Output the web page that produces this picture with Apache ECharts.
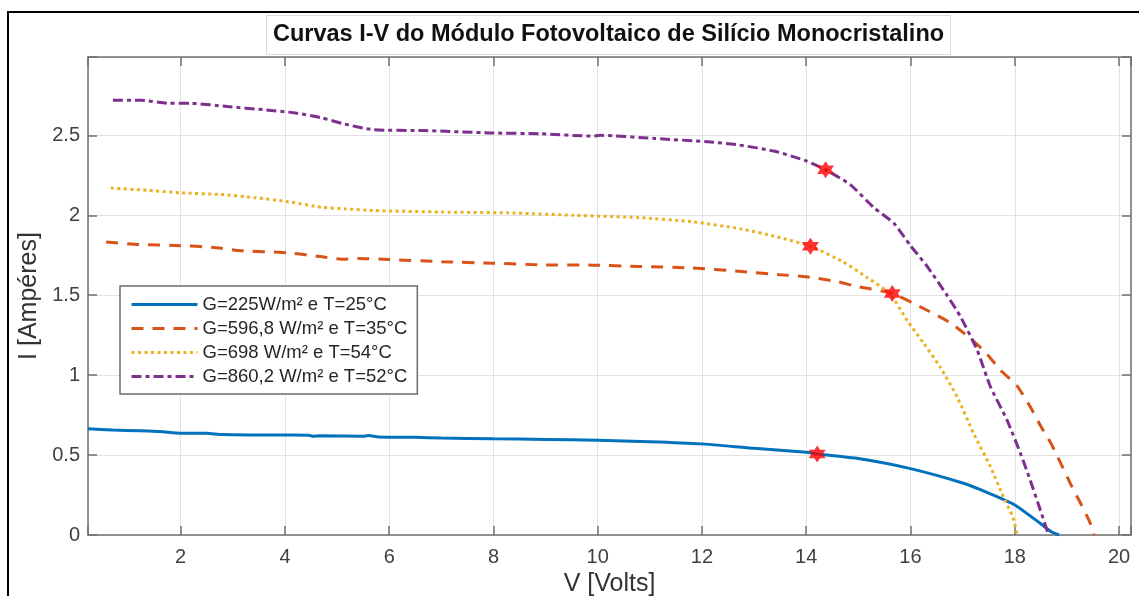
<!DOCTYPE html>
<html>
<head>
<meta charset="utf-8">
<script src="https://cdn.jsdelivr.net/npm/echarts@6/dist/echarts.min.js"></script>
<style>
  html, body { margin: 0; padding: 0; background: #fff; }
  #chart-container { width: 1139px; height: 596px; }
</style>
</head>
<body>
<div id="chart-container"></div>
<script>
let dom = document.getElementById("chart-container");
let myChart = echarts.init(dom, null, { renderer: "canvas" });

// curve names
const names = [
  "G=225W/m² e T=25°C",
  "G=596,8 W/m² e T=35°C",
  "G=698 W/m² e T=54°C",
  "G=860,2 W/m² e T=52°C",
];

// G=225
const v225 = [0.22, 0.7, 1.2, 1.6, 2.0, 2.5, 2.8, 3.5, 4.0, 4.45, 4.55, 4.65, 5.5, 5.6, 5.8, 6.5, 7.0, 8.0, 9.0, 10.0, 11.0, 12.0, 13.0, 14.0, 14.2, 15.0, 16.0, 17.0, 17.5, 18.0, 18.5, 18.7, 18.85];
const i225 = [0.665, 0.657, 0.652, 0.647, 0.637, 0.636, 0.628, 0.626, 0.625, 0.624, 0.617, 0.621, 0.617, 0.622, 0.613, 0.611, 0.607, 0.602, 0.598, 0.592, 0.584, 0.57, 0.542, 0.518, 0.507, 0.478, 0.415, 0.325, 0.262, 0.188, 0.07, 0.02, 0.0];

// G=596,8
const v596 = [0.57, 1.2, 2.0, 2.6, 3.1, 4.06, 4.6, 5.1, 5.4, 6.0, 7.0, 8.0, 8.9, 9.9, 10.8, 11.8, 12.7, 13.5, 14.0, 14.6, 14.9, 15.65, 16.25, 16.8, 17.4, 17.73, 18.05, 18.3, 18.5, 18.7, 18.88, 19.07, 19.26, 19.45, 19.52];
const i596 = [1.833, 1.817, 1.81, 1.8, 1.78, 1.765, 1.745, 1.725, 1.73, 1.723, 1.71, 1.7, 1.69, 1.688, 1.68, 1.67, 1.65, 1.628, 1.615, 1.585, 1.56, 1.51, 1.417, 1.32, 1.156, 1.03, 0.93, 0.8, 0.68, 0.57, 0.45, 0.32, 0.2, 0.073, 0.0];

// G=698
const v698 = [0.66, 1.37, 2.0, 2.77, 3.42, 4.06, 4.7, 5.15, 5.7, 7.0, 8.26, 9.53, 10.8, 11.8, 12.74, 13.44, 14.08, 14.7, 15.17, 15.6, 15.94, 16.25, 16.57, 16.9, 17.21, 17.53, 17.78, 17.96, 18.05];
const i698 = [2.17, 2.156, 2.14, 2.13, 2.11, 2.085, 2.05, 2.04, 2.03, 2.02, 2.015, 2.0, 1.985, 1.96, 1.915, 1.865, 1.806, 1.71, 1.61, 1.51, 1.34, 1.2, 1.05, 0.86, 0.635, 0.43, 0.24, 0.115, 0.0];

// G=860,2
const v860 = [0.7, 1.24, 1.76, 2.2, 2.9, 3.6, 4.2, 4.7, 5.15, 5.7, 6.65, 7.94, 8.9, 9.9, 10.05, 11.1, 12.1, 12.7, 13.4, 14.0, 14.37, 14.85, 15.29, 15.68, 16.0, 16.32, 16.7, 16.96, 17.28, 17.53, 17.85, 18.11, 18.3, 18.49, 18.65];
const i860 = [2.72, 2.72, 2.7, 2.7, 2.68, 2.66, 2.64, 2.61, 2.57, 2.535, 2.53, 2.515, 2.51, 2.495, 2.5, 2.48, 2.46, 2.44, 2.4, 2.34, 2.285, 2.19, 2.05, 1.95, 1.81, 1.68, 1.5, 1.365, 1.156, 0.93, 0.72, 0.51, 0.34, 0.156, 0.0];

// marked points (red stars)
const starV = [14.21, 14.08, 15.65, 14.37];
const starI = [0.507, 1.806, 1.51, 2.285];

const xTicks = [2, 4, 6, 8, 10, 12, 14, 16, 18, 20];
const yTicks = [0, 0.5, 1, 1.5, 2, 2.5];

const colors = ["#0072BD", "#D95319", "#EDB120", "#7E2F8E"];
const dashes = ["solid", [12, 9], [3, 3.5], [10, 4, 4, 4]];

const zip = (a, b) => a.map((v, k) => [v, b[k]]);
const curves = [zip(v225, i225), zip(v596, i596), zip(v698, i698), zip(v860, i860)];

const hexagram =
  "path://M0,-10 L2.89,-5 L8.66,-5 L5.77,0 L8.66,5 L2.89,5 L0,10 L-2.89,5 L-8.66,5 L-5.77,0 L-8.66,-5 L-2.89,-5 Z";

const FONT = "Liberation Sans";
const boxColor = "#707070";
const X_MIN = 0.222, X_MAX = 20.23;

// only print the round tick values, not the axis extent ends
function onTick(list) {
  return (v) => (list.some((t) => Math.abs(t - v) < 1e-6) ? String(v) : "");
}

let option = {
  animation: false,
  backgroundColor: "#fff",
  graphic: [
    {
      type: "rect",
      shape: { x: 8, y: 12, width: 1145, height: 600 },
      style: { fill: "none", stroke: "#000", lineWidth: 2 },
      z: 100,
    },
  ],
  title: {
    text: "Curvas I-V do Módulo Fotovoltaico de Silício Monocristalino",
    left: 266,
    top: 15,
    padding: [8, 7],
    backgroundColor: "#fff",
    borderColor: "#dcdcdc",
    borderWidth: 1,
    textStyle: { fontFamily: FONT, fontSize: 23.5, fontWeight: "bold", color: "#111" },
  },
  legend: {
    orient: "vertical",
    left: 120,
    top: 286,
    padding: [9, 10, 8, 10],
    itemWidth: 66,
    itemHeight: 14,
    itemGap: 5,
    backgroundColor: "#fff",
    borderColor: "#6a6a6a",
    borderWidth: 1.5,
    itemStyle: { opacity: 0 },
    lineStyle: { width: 3 },
    data: names,
    textStyle: { fontFamily: FONT, fontSize: 18.5, color: "#262626" },
  },
  grid: { left: 88, right: 8, top: 57, bottom: 61, containLabel: false, outerBoundsMode: "none" },
  xAxis: [
    {
      type: "value",
      min: X_MIN,
      max: X_MAX,
      splitNumber: 11,
      name: "V [Volts]",
      nameLocation: "middle",
      nameGap: 33,
      nameTextStyle: { fontFamily: FONT, fontSize: 25, color: "#333" },
      axisLine: { onZero: false, lineStyle: { color: boxColor, width: 1.5 } },
      axisTick: { inside: true, length: 9, lineStyle: { color: boxColor, width: 1.5 } },
      axisLabel: { margin: 12, fontFamily: FONT, fontSize: 20, color: "#404040", formatter: onTick(xTicks) },
      splitLine: { show: true, lineStyle: { color: "#e2e2e2", width: 1 } },
    },
    {
      type: "value",
      position: "top",
      min: X_MIN,
      max: X_MAX,
      splitNumber: 11,
      axisLine: { onZero: false, lineStyle: { color: boxColor, width: 1.5 } },
      axisTick: { inside: true, length: 9, lineStyle: { color: boxColor, width: 1.5 } },
      axisLabel: { show: false },
      splitLine: { show: false },
    },
  ],
  yAxis: [
    {
      type: "value",
      min: 0,
      max: 2.99,
      interval: 0.5,
      name: "I [Ampéres]",
      nameLocation: "middle",
      nameGap: 42,
      nameTextStyle: { fontFamily: FONT, fontSize: 25, color: "#333" },
      axisLine: { show: true, onZero: false, lineStyle: { color: boxColor, width: 1.5 } },
      axisTick: { show: true, inside: true, length: 9, lineStyle: { color: boxColor, width: 1.5 } },
      axisLabel: { margin: 8, fontFamily: FONT, fontSize: 20, color: "#404040", formatter: onTick(yTicks) },
      splitLine: { show: true, lineStyle: { color: "#e2e2e2", width: 1 } },
    },
    {
      type: "value",
      position: "right",
      min: 0,
      max: 2.99,
      interval: 0.5,
      axisLine: { show: true, onZero: false, lineStyle: { color: boxColor, width: 1.5 } },
      axisTick: { show: true, inside: true, length: 9, lineStyle: { color: boxColor, width: 1.5 } },
      axisLabel: { show: false },
      splitLine: { show: false },
    },
  ],
  series: curves
    .map((data, k) => ({
      name: names[k],
      type: "line",
      xAxisIndex: 0,
      yAxisIndex: 0,
      data: data,
      symbol: "none",
      smooth: 0.2,
      color: colors[k],
      lineStyle: { color: colors[k], width: 3, type: dashes[k] },
      z: 3,
    }))
    .concat([
      {
        name: "MPP",
        type: "scatter",
        xAxisIndex: 0,
        yAxisIndex: 0,
        data: zip(starV, starI),
        symbol: hexagram,
        symbolSize: 17,
        itemStyle: { color: "#ff0000" },
        z: 5,
      },
    ]),
};

myChart.setOption(option);
window.addEventListener("resize", myChart.resize);
</script>
</body>
</html>
